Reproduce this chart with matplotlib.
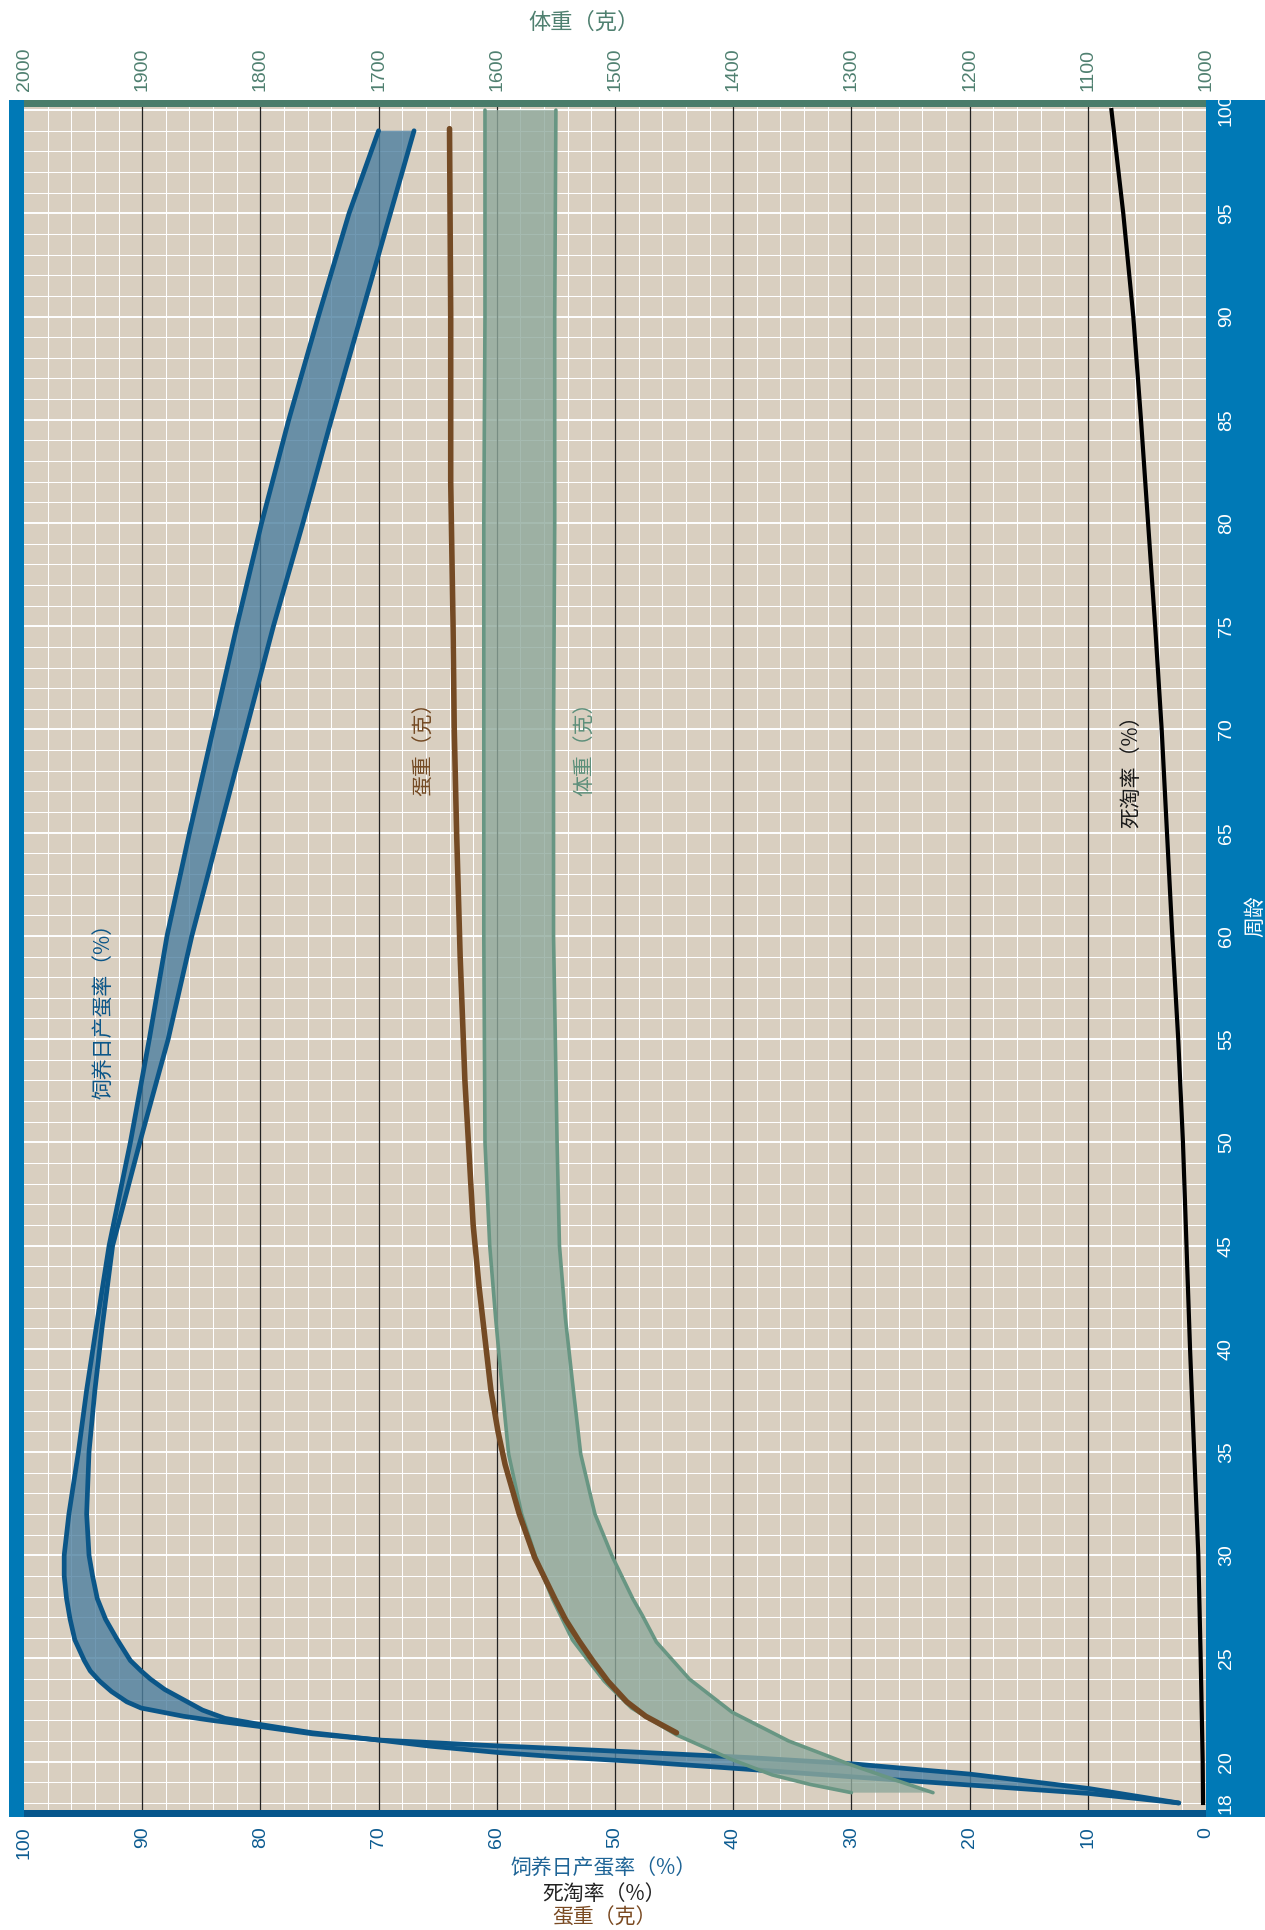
import numpy as np
import matplotlib.pyplot as plt
from matplotlib.patches import Rectangle

plt.rcParams['font.family'] = ['Noto Sans CJK SC', 'DejaVu Sans']
NUM_FONT = ['Liberation Sans Narrow', 'Liberation Sans', 'DejaVu Sans']

# 饲养日产蛋率 (%) - 上限 / 下限
lay_weeks_hi = [18.0, 18.7, 19.4, 19.9, 20.2, 20.45, 20.65, 20.8, 21.05, 21.35, 21.7, 22.0,
                22.2, 22.6, 22.9, 23.4, 23.9, 24.4, 24.9, 25.4, 25.9, 26.9, 27.9, 29.0,
                30.0, 32.0, 35.0, 38.0, 41.0, 45.0, 50.0, 55.0, 60.0, 65.0, 70.0, 75.0,
                80.0, 85.0, 90.0, 95.0, 99.0]
lay_rate_hi = [2.3, 9.9, 20.0, 30.0, 38.7, 47.7, 55.2, 61.2, 70.0, 75.6, 80.0, 84.1,
               86.5, 90.1, 91.3, 92.6, 93.6, 94.4, 94.9, 95.3, 95.7, 96.1, 96.4, 96.6,
               96.6, 96.2, 95.4, 94.7, 93.9, 92.8, 91.0, 89.4, 87.9, 86.0, 84.0, 82.0,
               79.9, 77.6, 75.1, 72.5, 70.0]
lay_weeks_lo = [18.0, 18.46, 18.87, 19.27, 19.65, 20.0, 20.23, 20.45, 20.75, 21.05, 21.4,
                21.8, 22.1, 22.5, 23.0, 23.5, 24.0, 24.4, 24.9, 25.9, 26.9, 27.9, 29.0,
                30.0, 32.0, 35.0, 38.0, 41.0, 45.0, 50.0, 55.0, 60.0, 65.0, 70.0,
                75.0, 80.0, 85.0, 90.0, 95.0, 99.0]
lay_rate_lo = [2.3, 9.9, 20.0, 30.0, 39.2, 47.9, 54.7, 60.0, 65.6, 70.0, 75.6,
               80.0, 83.0, 84.9, 86.5, 88.1, 89.3, 90.1, 91.0, 92.1, 93.1, 93.8, 94.2,
               94.5, 94.7, 94.5, 94.0, 93.4, 92.5, 90.2, 87.8, 85.8, 83.5, 81.2,
               78.9, 76.4, 74.0, 71.5, 69.0, 67.0]

# 体重 (克) - 上限 / 下限
bw_weeks_hi = [18.5, 18.9, 19.36, 20.1, 21.3, 22.6, 23.9, 25.0, 25.9, 27.9, 29.9, 32.0,
               34.9, 38.4, 41.5, 45.0, 50.0, 60.0, 70.0, 80.0, 90.0, 100.0]
bw_hi = [1300, 1335, 1367, 1401, 1448, 1486, 1509, 1524, 1536, 1553, 1567, 1579,
         1590, 1596, 1601, 1606, 1610, 1611, 1611, 1611, 1610, 1610]
bw_weeks_lo = [18.5, 19.0, 19.84, 21.0, 22.4, 24.0, 25.8, 27.1, 27.9, 29.9, 32.0, 34.9,
               38.4, 41.5, 45.0, 50.0, 60.0, 70.0, 80.0, 90.0, 100.0]
bw_lo = [1231, 1257, 1300, 1353, 1401, 1437, 1465, 1477, 1485, 1502, 1517, 1529,
         1536, 1542, 1547, 1549, 1552, 1552, 1551, 1551, 1550]

# 蛋重 (克)
egg_weeks = [21.4, 22.2, 22.9, 23.9, 24.9, 25.9, 26.9, 27.9, 29.9, 32.0, 34.4, 36.0,
             38.0, 43.0, 46.0, 53.0, 59.0, 65.0, 70.0, 75.0, 82.0, 90.0, 99.1]
egg_weight = [44.8, 47.4, 49.0, 50.6, 51.9, 53.1, 54.2, 55.1, 56.8, 58.1, 59.3, 59.9,
              60.5, 61.5, 62.0, 62.7, 63.1, 63.4, 63.6, 63.7, 63.9, 63.9, 64.0]

# 死淘率 (%)
mort_weeks = [18, 20, 25, 30, 35, 40, 45, 50, 55, 60, 65, 70, 75, 80, 85, 90, 95, 100]
mortality = [0.25, 0.28, 0.45, 0.65, 1.0, 1.35, 1.65, 1.95, 2.35, 2.85, 3.3, 3.75, 4.3,
             4.9, 5.5, 6.15, 7.0, 8.0]

pct_ticks = list(range(0, 101, 10))
bw_ticks = list(range(1000, 2001, 100))
week_ticks = [18] + list(range(20, 101, 5))

W, H = 1265, 1930
fig = plt.figure(figsize=(W / 100, H / 100), dpi=100)


def px_box(x0, y0, x1, y1):
    return [x0 / W, 1 - y1 / H, (x1 - x0) / W, (y1 - y0) / H]


ax = fig.add_axes(px_box(24, 107, 1206, 1810))
ax.set_facecolor('#d9cfc0')
ax.set_xlim(100, 0)
ax.set_ylim(17.66, 100.15)
for s in ax.spines.values():
    s.set_visible(False)

# 网格
for w in range(18, 101):
    ax.axhline(w, color='white', lw=1.4 if w % 5 == 0 else 0.75, zorder=0.5)
for p in range(2, 100, 2):
    if p % 10:
        ax.axvline(p, color='white', lw=0.75, zorder=0.5)
for p in pct_ticks[1:-1]:
    ax.axvline(p, color='#222222', lw=0.9, zorder=0.6)

# 产蛋率带
ax.fill(lay_rate_hi + lay_rate_lo[::-1], lay_weeks_hi + lay_weeks_lo[::-1],
        color='#4d80a0', alpha=0.8, lw=0, zorder=2)
for xs, ys in [(lay_rate_hi, lay_weeks_hi), (lay_rate_lo, lay_weeks_lo)]:
    ax.plot(xs, ys, color='#0b5688', lw=3.4, solid_capstyle='round',
            solid_joinstyle='round', zorder=2.5)

# 体重带 (换算到下轴刻度)
bw_hi_x = (np.array(bw_hi) - 1000) / 10
bw_lo_x = (np.array(bw_lo) - 1000) / 10
ax.fill(np.r_[bw_hi_x, bw_lo_x[::-1]], np.r_[bw_weeks_hi, bw_weeks_lo[::-1]],
        color='#8fa99c', alpha=0.8, lw=0, zorder=3)
for xs, ys in [(bw_hi_x, bw_weeks_hi), (bw_lo_x, bw_weeks_lo)]:
    ax.plot(xs, ys, color='#689683', lw=2.6, solid_capstyle='round',
            solid_joinstyle='round', zorder=3.5)

# 蛋重
ax.plot(egg_weight, egg_weeks, color='#744a24', lw=4, solid_capstyle='round',
        solid_joinstyle='round', zorder=4)
# 死淘率
ax.plot(mortality, mort_weeks, color='black', lw=3, solid_joinstyle='round', zorder=4)

# 曲线标签
ax.text(93.2, 56.6, '饲养日产蛋率（%）', rotation=90, color='#0b5688', fontsize=15,
        fontweight='medium', ha='center', va='center', zorder=5)
ax.text(66.2, 69.3, '蛋重（克）', rotation=90, color='#744a24', fontsize=15,
        fontweight='medium', ha='center', va='center', zorder=5)
ax.text(52.5, 69.3, '体重（克）', rotation=90, color='#5d8f7a', fontsize=15,
        fontweight='medium', ha='center', va='center', zorder=5)
ax.text(6.3, 68.2, '死淘率（%）', rotation=90, color='#1a1a1a', fontsize=15,
        fontweight='medium', ha='center', va='center', zorder=5)

# 下轴 (%)
ax.set_xticks(pct_ticks)
ax.set_xticklabels([str(t) for t in pct_ticks], rotation=90, fontfamily=NUM_FONT,
                   fontsize=14, color='#0d5c91')
ax.tick_params(axis='x', length=0, pad=12)

# 右轴 (周龄)
ax.yaxis.tick_right()
ax.set_yticks(week_ticks)
ax.set_yticklabels([str(t) for t in week_ticks], rotation=90, va='center',
                   fontfamily=NUM_FONT, fontsize=14, color='white')
ax.tick_params(axis='y', length=0, pad=8.6)

# 上轴 (体重)
top = ax.secondary_xaxis('top', functions=(lambda p: 1000 + 10 * p, lambda g: (g - 1000) / 10))
top.set_xticks(bw_ticks)
top.set_xticklabels([str(t) for t in bw_ticks], rotation=90, fontfamily=NUM_FONT,
                    fontsize=14, color='#4f8070')
top.tick_params(length=0, pad=11.7)
top.spines['top'].set_visible(False)

# 边框色条
for box, col in [((24, 100, 1206, 107), '#4a7c6a'),
                 ((9, 100, 24, 1817), '#0079b6'),
                 ((24, 1810, 1206, 1817), '#05568c'),
                 ((1206, 100, 1265, 1817), '#0079b6')]:
    x, y, w, h = px_box(*box)
    fig.add_artist(Rectangle((x, y), w, h, transform=fig.transFigure, color=col,
                             lw=0, zorder=0))

# 轴标题
fig.text(584 / W, 1 - 22 / H, '体重（克）', color='#4f8070', fontsize=16, ha='center', va='center')
fig.text(1255 / W, 1 - 916 / H, '周龄', color='white', fontsize=15, rotation=90,
         ha='center', va='center')
fig.text(604 / W, 1 - 1869 / H, '饲养日产蛋率（%）', color='#1e6496', fontsize=15,
         ha='center', va='center')
fig.text(604 / W, 1 - 1894 / H, '死淘率（%）', color='#222222', fontsize=15,
         ha='center', va='center')
fig.text(604 / W, 1 - 1918 / H, '蛋重（克）', color='#7a4a22', fontsize=15,
         ha='center', va='center')

fig.savefig('out.png', dpi=100)
